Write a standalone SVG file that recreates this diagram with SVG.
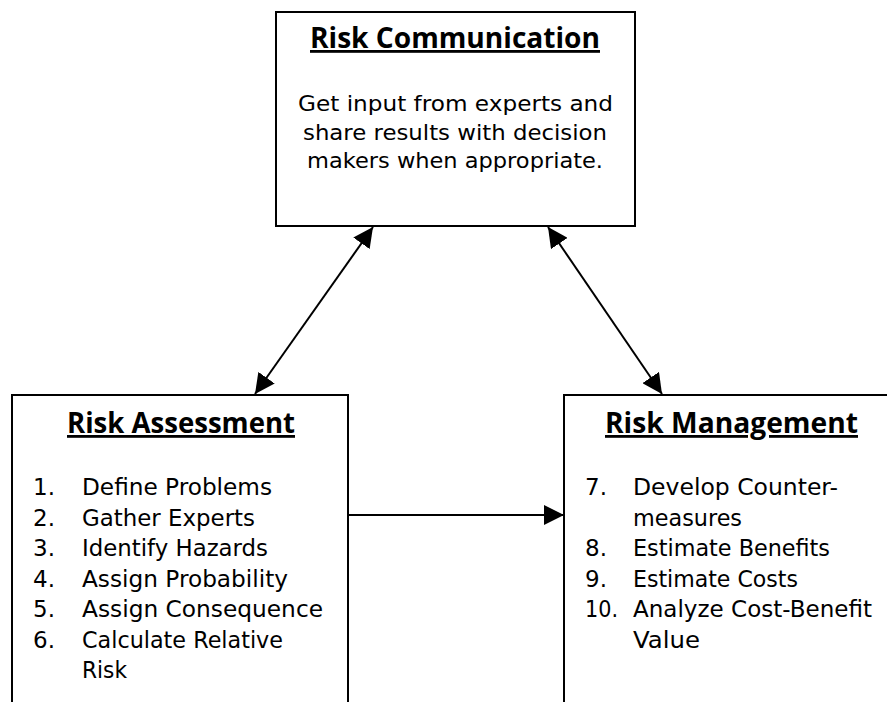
<svg xmlns="http://www.w3.org/2000/svg" width="887" height="702" viewBox="0 0 887 702">
<style>
.box{fill:#fff;stroke:#000;stroke-width:2}
.title{font-family:"Open Sans","Liberation Sans",sans-serif;font-weight:bold;font-size:28px;text-decoration:underline;fill:#000}
.body{font-family:"DejaVu Sans","Liberation Sans",sans-serif;font-size:20.5px;fill:#000}
.item{font-family:"DejaVu Sans","Liberation Sans",sans-serif;font-size:23px;fill:#000}
.conn{stroke:#000;stroke-width:2;fill:none}
</style>
<defs>
<marker id="ah" viewBox="0 0 20 20" refX="20" refY="10" markerWidth="20" markerHeight="20" markerUnits="userSpaceOnUse" orient="auto-start-reverse">
<path d="M0,0 L20,10 L0,20 Z" fill="#000"/>
</marker>
</defs>
<rect width="887" height="702" fill="#fff"/>
<g id="risk-communication">
<rect class="box" x="276" y="12" width="359" height="214"/>
<text class="title" x="310" y="48" textLength="290" lengthAdjust="spacingAndGlyphs">Risk Communication</text>
<text class="body" x="298" y="111" textLength="315" lengthAdjust="spacingAndGlyphs">Get input from experts and</text>
<text class="body" x="303" y="139.5" textLength="304" lengthAdjust="spacingAndGlyphs">share results with decision</text>
<text class="body" x="307" y="168" textLength="296" lengthAdjust="spacingAndGlyphs">makers when appropriate.</text>
</g>
<g id="risk-assessment">
<rect class="box" x="12" y="395" width="336" height="330"/>
<text class="title" x="67" y="433" textLength="228" lengthAdjust="spacingAndGlyphs">Risk Assessment</text>
<text class="item" x="33" y="495">1.</text><text class="item" x="82" y="495" textLength="190" lengthAdjust="spacingAndGlyphs">Define Problems</text>
<text class="item" x="33" y="525.5">2.</text><text class="item" x="82" y="525.5" textLength="173" lengthAdjust="spacingAndGlyphs">Gather Experts</text>
<text class="item" x="33" y="556">3.</text><text class="item" x="82" y="556" textLength="186" lengthAdjust="spacingAndGlyphs">Identify Hazards</text>
<text class="item" x="33" y="586.5">4.</text><text class="item" x="82" y="586.5" textLength="206" lengthAdjust="spacingAndGlyphs">Assign Probability</text>
<text class="item" x="33" y="617">5.</text><text class="item" x="82" y="617" textLength="241" lengthAdjust="spacingAndGlyphs">Assign Consequence</text>
<text class="item" x="33" y="647.5">6.</text><text class="item" x="82" y="647.5" textLength="201" lengthAdjust="spacingAndGlyphs">Calculate Relative</text>
<text class="item" x="82" y="678" textLength="45" lengthAdjust="spacingAndGlyphs">Risk</text>
</g>
<g id="risk-management">
<rect class="box" x="564" y="395" width="340" height="330"/>
<text class="title" x="605" y="433" textLength="253" lengthAdjust="spacingAndGlyphs">Risk Management</text>
<text class="item" x="585" y="495">7.</text><text class="item" x="633" y="495" textLength="205" lengthAdjust="spacingAndGlyphs">Develop Counter-</text>
<text class="item" x="633" y="525.5" textLength="109" lengthAdjust="spacingAndGlyphs">measures</text>
<text class="item" x="585" y="556">8.</text><text class="item" x="633" y="556" textLength="197" lengthAdjust="spacingAndGlyphs">Estimate Benefits</text>
<text class="item" x="585" y="586.5">9.</text><text class="item" x="633" y="586.5" textLength="165" lengthAdjust="spacingAndGlyphs">Estimate Costs</text>
<text class="item" x="585" y="617" textLength="33" lengthAdjust="spacingAndGlyphs">10.</text><text class="item" x="633" y="617" textLength="239" lengthAdjust="spacingAndGlyphs">Analyze Cost-Benefit</text>
<text class="item" x="633" y="647.5" textLength="67" lengthAdjust="spacingAndGlyphs">Value</text>
</g>
<g id="connectors">
<line class="conn" x1="373" y1="227" x2="255" y2="394" marker-start="url(#ah)" marker-end="url(#ah)"/>
<line class="conn" x1="548" y1="227" x2="662" y2="394" marker-start="url(#ah)" marker-end="url(#ah)"/>
<line class="conn" x1="348" y1="515" x2="564" y2="515" marker-end="url(#ah)"/>
</g>
</svg>
